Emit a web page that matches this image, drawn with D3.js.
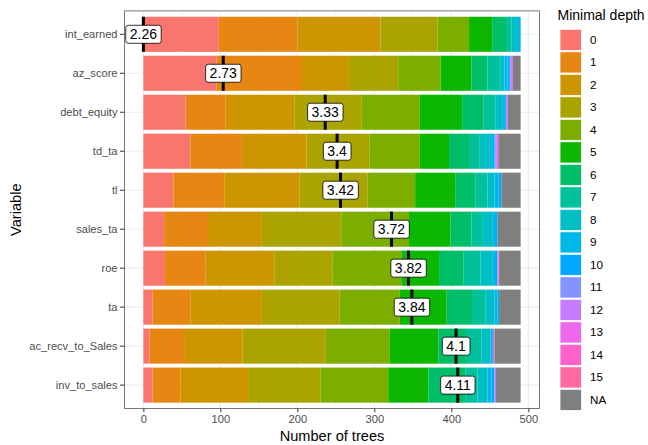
<!DOCTYPE html>
<html>
<head>
<meta charset="utf-8">
<script src="https://cdn.jsdelivr.net/npm/d3@7"></script>
<style>
  body { margin: 0; background: #fff; }
  text { font-family: "Liberation Sans", Arial, sans-serif; }
</style>
</head>
<body>
<div id="chart"></div>
<script>
// Variables, top to bottom
const variables = ['int_earned', 'az_score', 'debt_equity', 'td_ta', 'tl',
    'sales_ta', 'roe', 'ta', 'ac_recv_to_Sales', 'inv_to_sales'];

// Minimal depth levels (legend order)
const depthLevels = ['0', '1', '2', '3', '4', '5', '6', '7', '8', '9',
    '10', '11', '12', '13', '14', '15', 'NA'];

// Number of trees per depth level, one row per variable (same order as depthLevels)
const counts = [
    [98, 102, 108, 74, 41, 30, 18, 7, 6, 6, 0, 0, 0, 0, 0, 0, 0],
    [95, 111, 61, 64, 55, 40, 21, 16, 6, 4, 3, 1, 3, 0, 0, 0, 10],
    [55, 52, 89, 87, 76, 55, 28, 15, 9, 4, 1, 0, 2, 0, 0, 0, 17],
    [61, 67, 84, 82, 65, 38, 26, 14, 13, 6, 1, 0, 2, 2, 0, 0, 29],
    [39, 66, 98, 88, 62, 52, 26, 16, 9, 5, 4, 0, 0, 0, 0, 0, 25],
    [27, 57, 70, 103, 88, 54, 27, 15, 12, 5, 2, 0, 0, 0, 0, 0, 30],
    [28, 53, 89, 76, 89, 49, 32, 22, 15, 5, 2, 0, 1, 0, 1, 0, 28],
    [12, 49, 93, 101, 78, 61, 34, 16, 12, 4, 2, 0, 0, 0, 0, 0, 28],
    [8, 46, 75, 108, 83, 63, 36, 20, 12, 3, 0, 0, 0, 2, 0, 0, 34],
    [12, 36, 88, 94, 88, 52, 48, 16, 13, 5, 4, 0, 2, 0, 0, 0, 32]
];

// Mean minimal depth per variable
const meanDepth = [2.26, 2.73, 3.33, 3.4, 3.42, 3.72, 3.82, 3.84, 4.1, 4.11];
// range of mean depth over all variables, rescaled onto [0, ntree] for label placement
const meanDepthRange = [2.26, 4.48];
const ntree = 490;

const xTicks = [0, 100, 200, 300, 400, 500];
const xMinorTicks = [50, 150, 250, 350, 450];

const palette = ['#F8766D', '#E68613', '#CD9600', '#ABA300', '#7CAE00', '#0CB702',
    '#00BE67', '#00C19A', '#00BFC4', '#00B8E7', '#00A9FF', '#8494FF', '#C77CFF',
    '#ED68ED', '#FF61CC', '#FF68A1', '#7F7F7F'];

const width = 648, height = 445;
const panel = { left: 124.5, right: 539.5, top: 10.9, bottom: 408.5 };

const svg = d3.select('#chart').append('svg')
    .attr('width', width)
    .attr('height', height);

// Stack data
const rows = variables.map((v, i) => {
    const row = { variable: v };
    depthLevels.forEach((d, j) => { row[d] = counts[i][j]; });
    return row;
});
const stack = d3.stack().keys(depthLevels);
const series = stack(rows);

const total = d3.max(rows, r => d3.sum(depthLevels, d => r[d]));
const x = d3.scaleLinear()
    .domain([-0.05 * total, total * 1.05])
    .range([panel.left, panel.right]);

const y = d3.scaleBand()
    .domain(variables)
    .range([panel.top, panel.bottom])
    .paddingInner(0.1)
    .paddingOuter(0.15);

const color = d3.scaleOrdinal().domain(depthLevels).range(palette);

const meanPos = d3.scaleLinear().domain(meanDepthRange).range([0, ntree]);

// Grid
const grid = svg.append('g');
grid.selectAll('.minor').data(xMinorTicks).enter().append('line')
    .attr('x1', d => x(d)).attr('x2', d => x(d))
    .attr('y1', panel.top).attr('y2', panel.bottom)
    .attr('stroke', '#EBEBEB').attr('stroke-width', 0.6);
grid.selectAll('.major').data(xTicks).enter().append('line')
    .attr('x1', d => x(d)).attr('x2', d => x(d))
    .attr('y1', panel.top).attr('y2', panel.bottom)
    .attr('stroke', '#EBEBEB').attr('stroke-width', 1.1);
grid.selectAll('.hmajor').data(variables).enter().append('line')
    .attr('x1', panel.left).attr('x2', panel.right)
    .attr('y1', d => y(d) + y.bandwidth() / 2).attr('y2', d => y(d) + y.bandwidth() / 2)
    .attr('stroke', '#EBEBEB').attr('stroke-width', 1.1);

// Bars
svg.append('g').selectAll('g')
    .data(series)
    .enter().append('g')
    .attr('fill', d => color(d.key))
    .selectAll('rect')
    .data(d => d)
    .enter().append('rect')
    .attr('x', d => x(d[0]))
    .attr('width', d => Math.max(0, x(d[1]) - x(d[0])))
    .attr('y', d => y(d.data.variable))
    .attr('height', y.bandwidth());

// Mean markers
const marks = svg.append('g');
marks.selectAll('line').data(variables).enter().append('line')
    .attr('x1', (d, i) => x(meanPos(meanDepth[i])))
    .attr('x2', (d, i) => x(meanPos(meanDepth[i])))
    .attr('y1', d => y(d))
    .attr('y2', d => y(d) + y.bandwidth())
    .attr('stroke', '#000').attr('stroke-width', 3);

const labels = marks.selectAll('g.lab').data(variables).enter().append('g')
    .attr('class', 'lab')
    .attr('transform', (d, i) => `translate(${x(meanPos(meanDepth[i]))},${y(d) + y.bandwidth() / 2})`);
labels.append('text')
    .attr('text-anchor', 'middle')
    .attr('dy', '0.36em')
    .attr('font-size', '14px')
    .attr('fill', '#000')
    .text((d, i) => meanDepth[i]);
labels.each(function() {
    const g = d3.select(this);
    const bb = g.select('text').node().getBBox();
    g.insert('rect', 'text')
        .attr('x', bb.x - 4).attr('y', -9)
        .attr('width', bb.width + 8).attr('height', 18)
        .attr('rx', 2.5)
        .attr('fill', '#fff').attr('stroke', '#000').attr('stroke-width', 0.8);
});

// Panel border
svg.append('rect')
    .attr('x', panel.left).attr('y', panel.top)
    .attr('width', panel.right - panel.left).attr('height', panel.bottom - panel.top)
    .attr('fill', 'none').attr('stroke', '#555').attr('stroke-width', 0.8);

// Axes
const xAxis = svg.append('g')
    .attr('transform', `translate(0,${panel.bottom})`)
    .call(d3.axisBottom(x).tickValues(xTicks).tickSize(3.7).tickPadding(3));
const yAxis = svg.append('g')
    .attr('transform', `translate(${panel.left},0)`)
    .call(d3.axisLeft(y).tickSize(4.5).tickPadding(2.5));
[xAxis, yAxis].forEach(a => {
    a.select('.domain').remove();
    a.selectAll('.tick line').attr('stroke', '#333');
    a.selectAll('.tick text')
        .attr('fill', '#4D4D4D')
        .attr('font-size', '11.1px')
        .attr('font-family', '"Liberation Sans", Arial, sans-serif');
});

// Axis titles
svg.append('text')
    .attr('x', (panel.left + panel.right) / 2).attr('y', 441)
    .attr('text-anchor', 'middle')
    .attr('font-size', '14.6px')
    .attr('fill', '#000')
    .text('Number of trees');
svg.append('text')
    .attr('transform', `translate(21,${(panel.top + panel.bottom) / 2}) rotate(-90)`)
    .attr('text-anchor', 'middle')
    .attr('font-size', '14.6px')
    .attr('fill', '#000')
    .text('Variable');

// Legend
const legend = svg.append('g').attr('transform', 'translate(560,0)');
legend.append('text')
    .attr('x', -2.5).attr('y', 20)
    .attr('font-size', '14px')
    .attr('fill', '#000')
    .text('Minimal depth');
const items = legend.selectAll('.item').data(depthLevels).enter().append('g')
    .attr('transform', (d, i) => `translate(0,${29.3 + i * 22.5})`);
items.append('rect')
    .attr('width', 21.6).attr('height', 21.2)
    .attr('fill', d => color(d))
    .attr('stroke', '#fff').attr('stroke-width', 0.8);
items.append('text')
    .attr('x', 30).attr('y', 10.6).attr('dy', '0.35em')
    .attr('font-size', '11.7px')
    .attr('fill', '#000')
    .text(d => d);
</script>
</body>
</html>
